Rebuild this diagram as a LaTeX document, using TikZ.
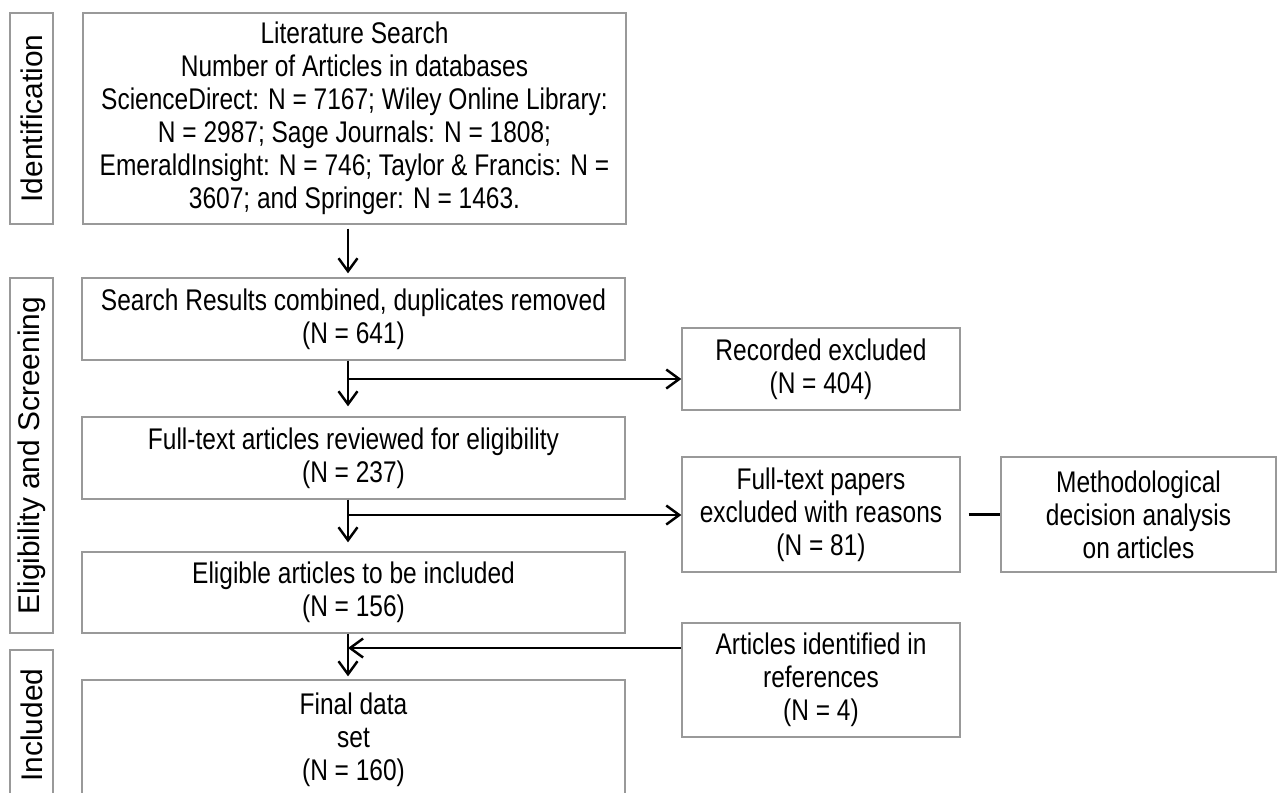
\documentclass[tikz,border=0pt]{standalone}
\usepackage{fontspec}
\setmainfont{Liberation Sans}
\newfontfamily\narrowsans{Liberation Sans}[FakeStretch=0.82]
\usetikzlibrary{arrows.meta}

\begin{document}
\begin{tikzpicture}[
  x=0.02cm, y=-0.02cm,
  box/.style={draw=black!40, line width=0.8pt, fill=white, align=center,
    inner sep=0pt, font=\narrowsans\fontsize{17}{18.8}\selectfont},
  phase/.style={draw=black!40, line width=0.8pt, fill=white, rotate=90,
    inner sep=0pt, font=\fontsize{17}{18.8}\selectfont},
  arrow/.style={-{Straight Barb[length=2.6mm, width=3.8mm]}, line width=1.4pt},
  link/.style={line width=1.4pt}
]
\useasboundingbox (0,0) rectangle (1277,792);

% phases on the left
\node[phase, minimum width=4.22cm, minimum height=0.86cm] (ident) at (31.5,118.5) {Identification};
\node[phase, minimum width=7.10cm, minimum height=0.86cm] (screen) at (31.5,455.5) {Eligibility and Screening};
\node[phase, minimum width=3.00cm, minimum height=0.86cm] (incl) at (31.5,725) {Included};

% main column
\node[box, minimum width=10.86cm, minimum height=4.22cm] (litsearch) at (354.5,118.5)
  {Literature Search\\Number of Articles in databases\\ScienceDirect: N = 7167; Wiley Online Library:\\N = 2987; Sage Journals: N = 1808;\\EmeraldInsight: N = 746; Taylor \& Francis: N =\\3607; and Springer: N = 1463.};
\node[box, minimum width=10.86cm, minimum height=1.64cm] (combined) at (353.5,319)
  {Search Results combined, duplicates removed\\(N = 641)};
\node[box, minimum width=10.86cm, minimum height=1.64cm] (fulltext) at (353.5,458)
  {Full-text articles reviewed for eligibility\\(N = 237)};
\node[box, minimum width=10.86cm, minimum height=1.62cm] (eligible) at (353.5,592.5)
  {Eligible articles to be included\\(N = 156)};
\node[box, minimum width=10.86cm, minimum height=2.40cm] (finalset) at (353.5,740)
  {Final data\\set\\(N = 160)};

% side column
\node[box, minimum width=5.56cm, minimum height=1.64cm] (recorded) at (821,369)
  {Recorded excluded\\(N = 404)};
\node[box, minimum width=5.56cm, minimum height=2.30cm] (excluded) at (821,514.5)
  {Full-text papers\\excluded with reasons\\(N = 81)};
\node[box, minimum width=5.50cm, minimum height=2.30cm] (method) at (1138.5,514.5)
  {Methodological\\decision analysis\\on articles};
\node[box, minimum width=5.56cm, minimum height=2.28cm] (refs) at (821,680)
  {Articles identified in\\references\\(N = 4)};

% branch points
\coordinate (spine) at (348,0);
\coordinate (b1) at (348,379);
\coordinate (b2) at (348,515);
\coordinate (b3) at (348,648);

\draw[arrow, shorten <=0.08cm, shorten >=0.08cm] (litsearch.south -| spine) -- (combined.north -| spine);
\draw[arrow, shorten >=0.2cm] (combined.south -| spine) -- (fulltext.north -| spine);
\draw[arrow, shorten >=0.18cm] (fulltext.south -| spine) -- (eligible.north -| spine);
\draw[arrow, shorten >=0.06cm] (eligible.south -| spine) -- (finalset.north -| spine);
\draw[arrow] (b1) -- (b1 -| recorded.west);
\draw[arrow] (b2) -- (b2 -| excluded.west);
\draw[arrow] (b3 -| refs.west) -- (b3);
\draw[link, shorten <=0.16cm] (excluded.east) -- (method.west);
\end{tikzpicture}
\end{document}
